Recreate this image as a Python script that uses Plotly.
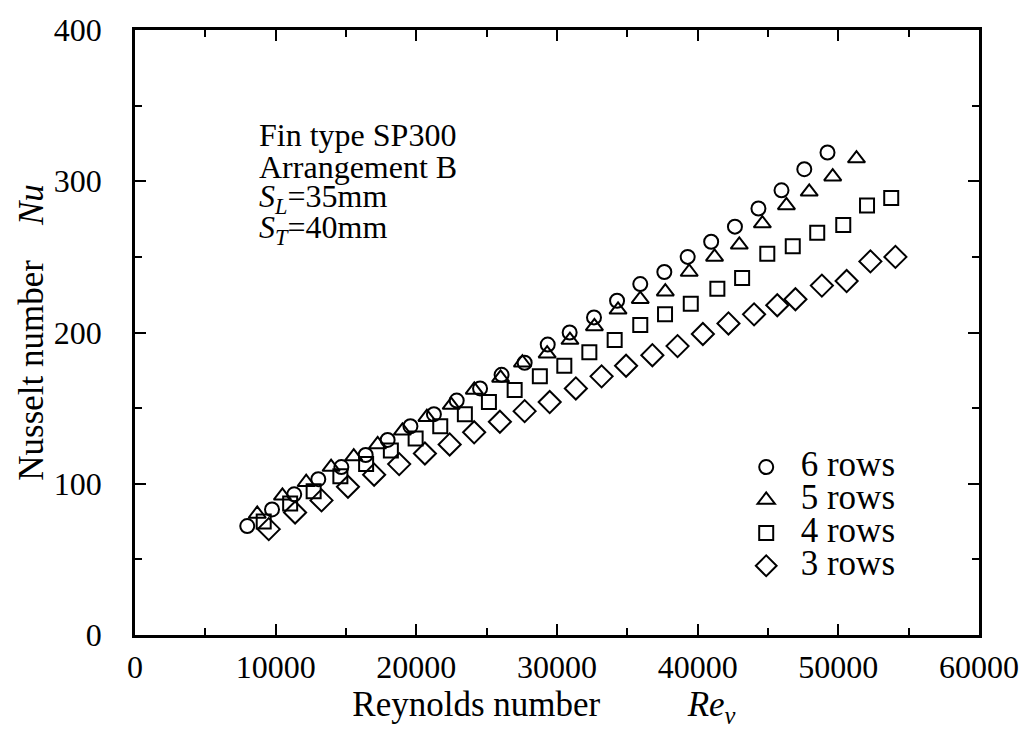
import plotly.graph_objects as go

# Reynolds number and Nusselt number readings for each tube-row count
re_6rows = [7980, 9740, 11320, 13030, 14670, 16400, 17960, 19580, 21250, 22870,
            24530, 26060, 27700, 29340, 30900, 32630, 34270, 35920, 37630, 39290,
            40960, 42650, 44320, 45960, 47580, 49230]
nu_6rows = [72, 83, 93, 103, 111, 119, 129, 138, 146, 155,
            163, 172, 180, 192, 200, 210, 221, 232, 240, 250,
            260, 270, 282, 294, 308, 319]

re_5rows = [8690, 10480, 12170, 13940, 15550, 17250, 19010, 20750, 22480, 24120,
            25990, 27540, 29300, 30920, 32660, 34340, 35920, 37700, 39400, 41200,
            42960, 44600, 46310, 47930, 49600, 51290]
nu_5rows = [80, 92, 101, 111, 118, 126, 135, 144, 152, 162,
            170, 180, 186, 195, 204, 215, 222, 227, 240, 250,
            258, 272, 284, 293, 303, 315]

re_4rows = [9150, 11030, 12700, 14600, 16430, 18190, 19950, 21700, 23450, 25160,
            26990, 28780, 30520, 32300, 34100, 35920, 37680, 39510, 41400, 43160,
            44950, 46760, 48500, 50350, 52040, 53760]
nu_4rows = [75, 87, 95, 105, 113, 122, 130, 138, 146, 154,
            162, 171, 178, 187, 195, 205, 212, 219, 229, 236,
            252, 257, 266, 271, 284, 289]

re_3rows = [9510, 11380, 13260, 15140, 17000, 18780, 20610, 22370, 24110, 25940,
            27700, 29480, 31340, 33170, 34910, 36780, 38570, 40370, 42190, 44010,
            45660, 46950, 48830, 50590, 52280, 54060]
nu_3rows = [70, 81, 89, 98, 106, 113, 120, 126, 134, 141,
            148, 154, 163, 171, 178, 185, 191, 199, 206, 212,
            218, 222, 231, 234, 247, 250]

x_ticks = [0, 10000, 20000, 30000, 40000, 50000, 60000]
y_ticks = [0, 100, 200, 300, 400]

SERIF = "Liberation Serif"
NBSP = "&nbsp;"

series = [
    ("6 rows", re_6rows, nu_6rows, "circle-open", 14),
    ("5 rows", re_5rows, nu_5rows, "triangle-up-open", 15),
    ("4 rows", re_4rows, nu_4rows, "square-open", 14),
    ("3 rows", re_3rows, nu_3rows, "diamond-open", 17),
]

fig = go.Figure()
for name, xs, ys, symbol, size in series:
    fig.add_trace(go.Scatter(
        x=xs, y=ys, mode="markers",
        # legend rows are packed tighter than the label size would give
        name=f'<span style="font-size:35px">{name}</span>',
        marker=dict(symbol=symbol, size=size, color="black",
                    line=dict(color="black", width=2)),
    ))

axis_common = dict(
    showline=True, linecolor="black", linewidth=2.5, mirror="ticks",
    ticks="inside", ticklen=11, tickwidth=2, tickcolor="black",
    showgrid=False, zeroline=False,
    tickfont=dict(family=SERIF, size=32, color="black"),
)

fig.update_xaxes(
    range=[0, 60000], tickvals=x_ticks, ticktext=[str(v) for v in x_ticks],
    minor=dict(ticks="inside", ticklen=7, tickwidth=2, tickcolor="black", dtick=5000,
               showgrid=False),
    ticklabelstandoff=2,
    title=dict(text="Reynolds number" + NBSP * 10 + "<i>Re<sub>v</sub></i>" + NBSP * 3,
               font=dict(family=SERIF, size=35, color="black"), standoff=6),
    **axis_common,
)
fig.update_yaxes(
    range=[0, 400], tickvals=y_ticks, ticktext=[str(v) for v in y_ticks],
    minor=dict(ticks="inside", ticklen=7, tickwidth=2, tickcolor="black", dtick=50,
               showgrid=False),
    ticklabelstandoff=24,
    title=dict(text="Nusselt number" + NBSP * 4 + "<i>Nu</i>",
               font=dict(family=SERIF, size=35, color="black"), standoff=0),
    **axis_common,
)

label_lines = [
    "Fin type SP300",
    "Arrangement B",
    "<i>S<sub>L</sub></i>=35mm",
    "<i>S<sub>T</sub></i>=40mm",
]
for i, line in enumerate(label_lines):
    fig.add_annotation(
        x=0.144, y=0.826 - i * 0.052, xref="paper", yref="paper",
        xanchor="left", yanchor="middle", showarrow=False, text=line,
        font=dict(family=SERIF, size=32, color="black"),
    )

fig.update_layout(
    width=1031, height=753,
    margin=dict(l=135, r=44, t=23, b=118),
    paper_bgcolor="white", plot_bgcolor="white",
    legend=dict(x=0.707, y=0.313, xanchor="left", yanchor="top",
                font=dict(family=SERIF, size=23, color="black"),
                bgcolor="rgba(0,0,0,0)", tracegroupgap=0, itemwidth=59),
)

fig.write_html("out.html")
